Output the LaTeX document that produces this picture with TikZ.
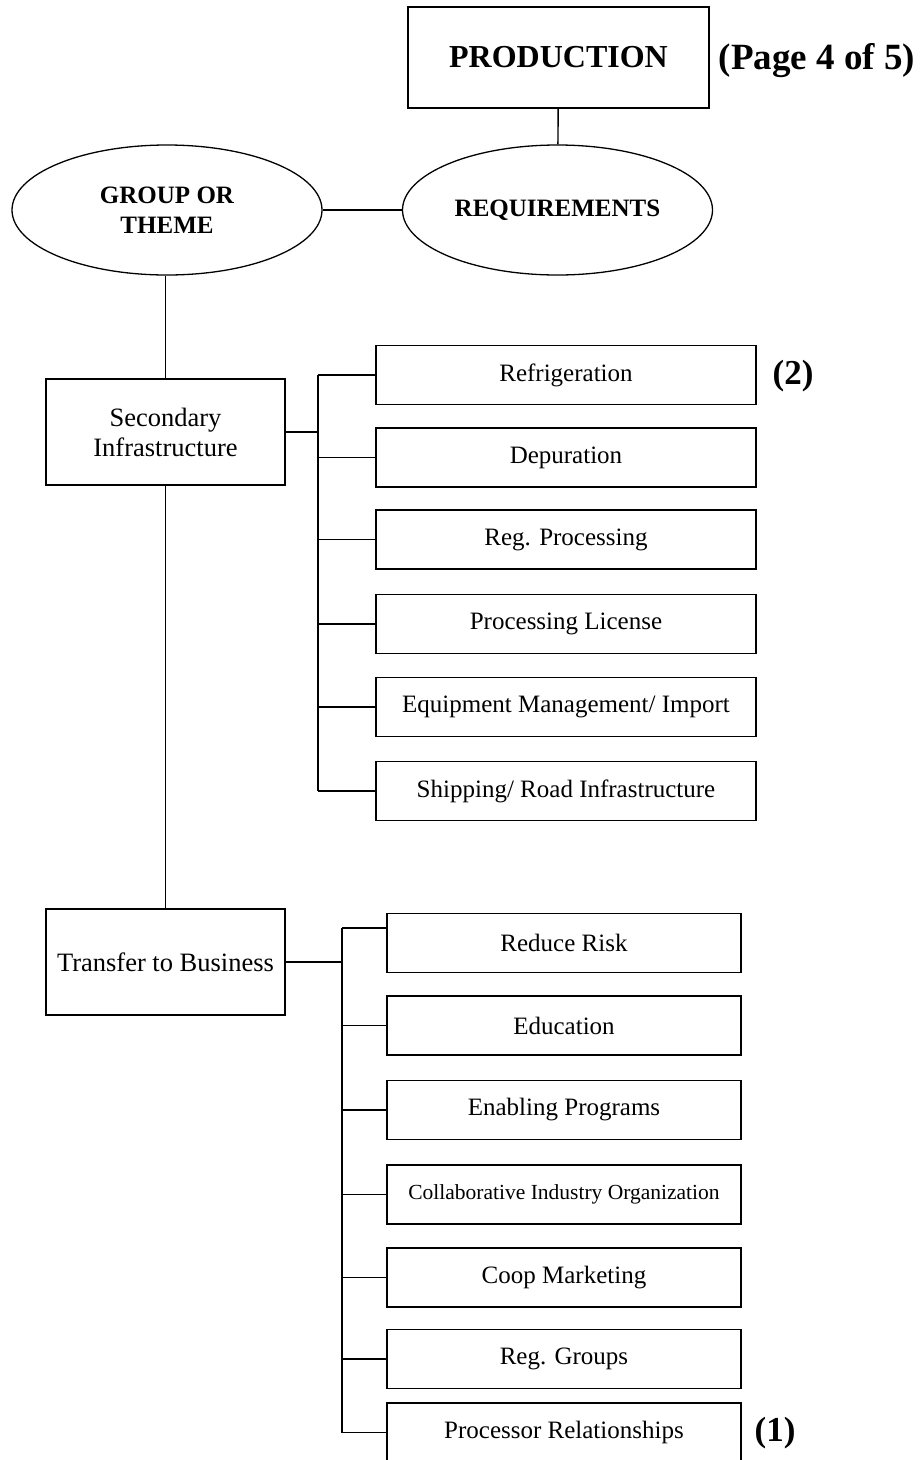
\documentclass[tikz,border=0pt]{standalone}
\usepackage{fontspec}
\setmainfont{Liberation Serif}
\usetikzlibrary{shapes.geometric}

\tikzset{
  headbox/.style={draw, line width=1.4pt, minimum width=301pt, minimum height=101pt, inner sep=0pt, font=\fontsize{32}{36}\selectfont\bfseries},
  oval/.style={draw, ellipse, line width=1.3pt, minimum width=310pt, minimum height=130pt, inner sep=0pt, align=center, font=\fontsize{25}{30}\selectfont\bfseries},
  groupbox/.style={draw, line width=1.4pt, minimum width=239pt, minimum height=106pt, inner sep=0pt, align=center, font=\fontsize{26.5}{30}\selectfont},
  itembox/.style={draw, line width=1.4pt, minimum width=380pt, minimum height=59pt, inner sep=0pt, font=\fontsize{25}{28}\selectfont},
  bizbox/.style={itembox, minimum width=354pt},
  tag/.style={font=\fontsize{35}{38}\selectfont\bfseries},
}

\begin{document}
\begin{tikzpicture}[x=1pt, y={(0pt,-1pt)}, line width=1.4pt]
        \useasboundingbox (0,0) rectangle (924,1460);

        % top of the chart
        \node[headbox] (prod) at (558.5,57.5) {PRODUCTION};
        \node[tag, font=\fontsize{37}{40}\selectfont\bfseries] (page) at (817,61) {(Page 4 of 5)};
        \node[oval] (req) at (557.5,210) {REQUIREMENTS};
        \node[oval] (theme) at (167,210) {GROUP OR\\THEME};
        \draw (prod) -- (req);
        \draw (theme) -- (req);

        % left column
        \node[groupbox] (sec) at (165.5,432) {Secondary\\Infrastructure};
        \node[groupbox] (trans) at (165.5,962) {Transfer to Business};
        \draw (theme.south -| sec.north) -- (sec.north);
        \draw (sec) -- (trans);

        % secondary infrastructure items
        \node[itembox] (refr) at (566,375) {Refrigeration};
        \node[itembox] (depu) at (566,457.5) {Depuration};
        \node[itembox] (regp) at (566,539.5) {Reg. Processing};
        \node[itembox] (lic) at (566,624) {Processing License};
        \node[itembox] (equip) at (566,707) {Equipment Management/ Import};
        \node[itembox] (ship) at (566,791) {Shipping/ Road Infrastructure};
        \node[tag] (two) at (793,376) {(2)};

        \coordinate (sspine) at (318,432);
        \draw (sec.east) -- (sspine);
        \draw (sspine |- refr.west) -- (sspine |- ship.west);
        \draw (sspine |- refr.west) -- (refr.west);
        \draw (sspine |- depu.west) -- (depu.west);
        \draw (sspine |- regp.west) -- (regp.west);
        \draw (sspine |- lic.west) -- (lic.west);
        \draw (sspine |- equip.west) -- (equip.west);
        \draw (sspine |- ship.west) -- (ship.west);

        % transfer to business items
        \node[bizbox] (risk) at (564,943) {Reduce Risk};
        \node[bizbox] (edu) at (564,1025.5) {Education};
        \node[bizbox] (enab) at (564,1110) {Enabling Programs};
        \node[bizbox, font=\fontsize{21.5}{25}\selectfont] (collab) at (564,1194.5) {Collaborative Industry Organization};
        \node[bizbox] (coop) at (564,1277.5) {Coop Marketing};
        \node[bizbox] (regg) at (564,1359) {Reg. Groups};
        \node[bizbox] (proc) at (564,1432.5) {Processor Relationships};
        \node[tag] (one) at (775,1433) {(1)};

        \coordinate (tspine) at (342,962);
        \coordinate (ttop) at (342,928);
        \draw (trans.east) -- (tspine);
        \draw (ttop) -- (tspine |- proc.west);
        \draw (ttop) -- (ttop -| risk.west);
        \draw (tspine |- edu.west) -- (edu.west);
        \draw (tspine |- enab.west) -- (enab.west);
        \draw (tspine |- collab.west) -- (collab.west);
        \draw (tspine |- coop.west) -- (coop.west);
        \draw (tspine |- regg.west) -- (regg.west);
        \draw (tspine |- proc.west) -- (proc.west);
      \end{tikzpicture}
\end{document}
